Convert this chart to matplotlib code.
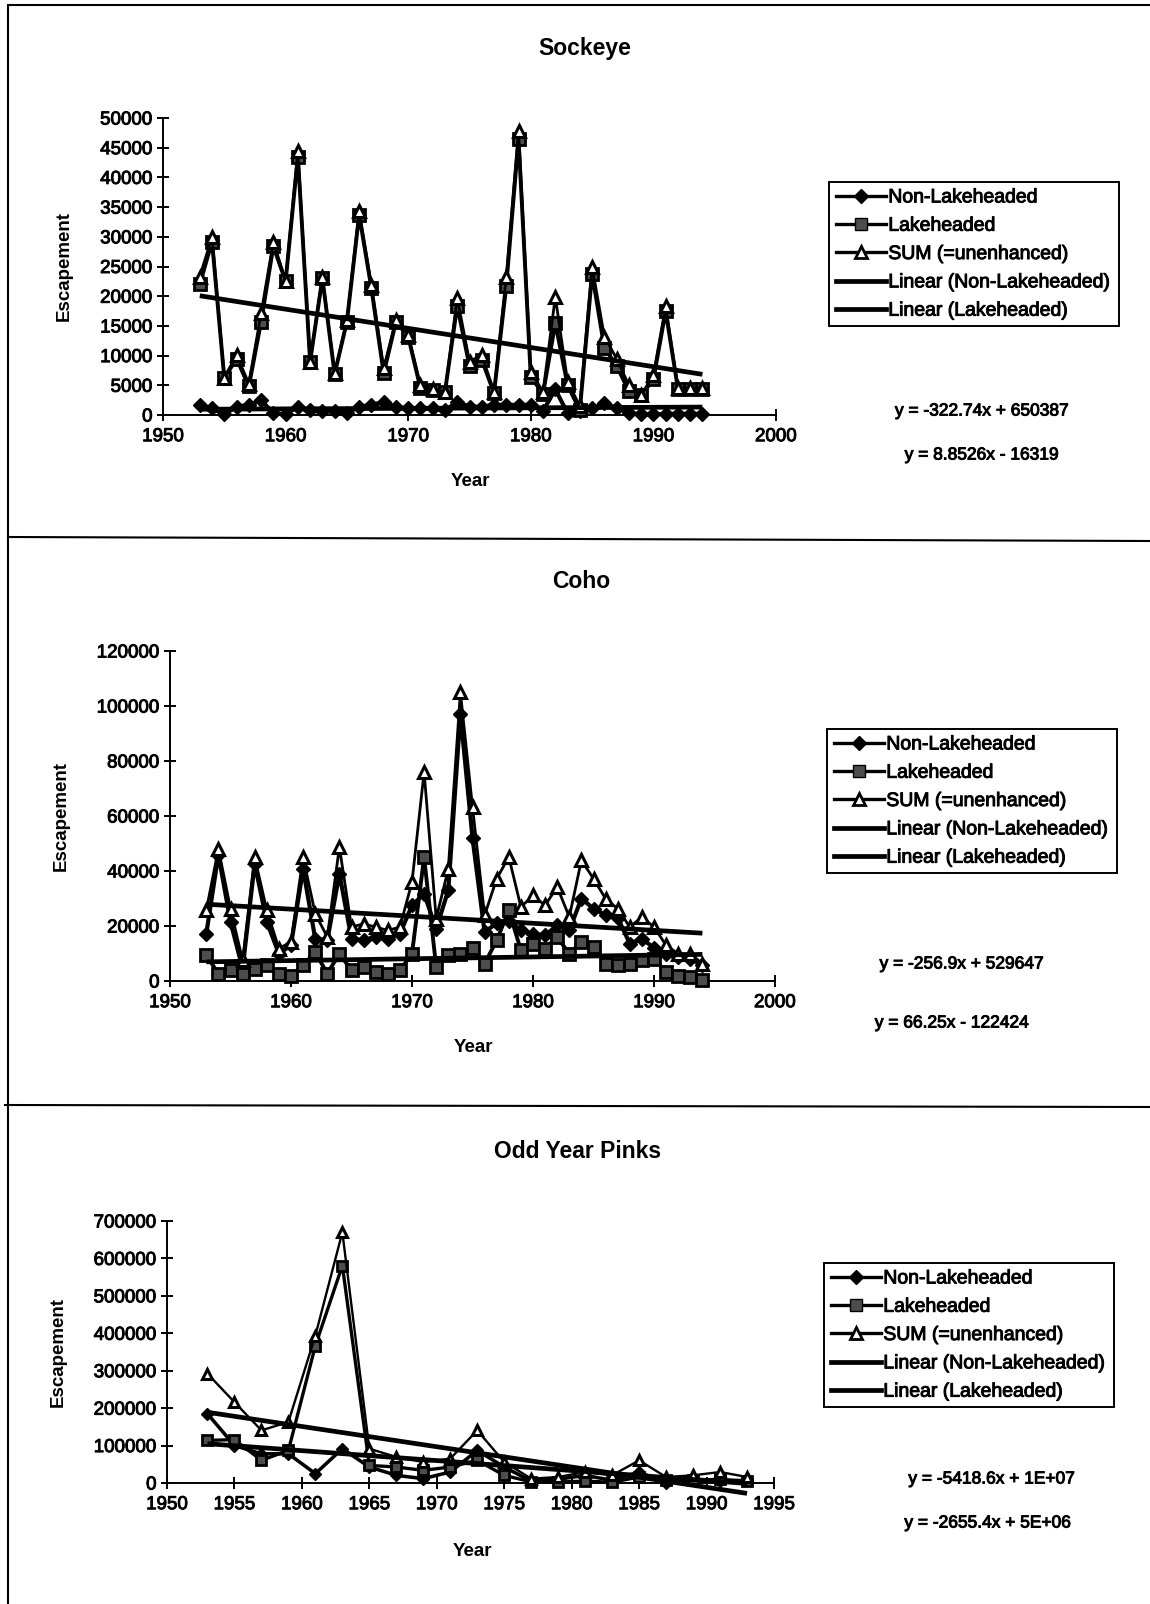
import numpy as np
import matplotlib.pyplot as plt
import matplotlib.patheffects as pe
from matplotlib.lines import Line2D
from matplotlib.ticker import StrMethodFormatter

plt.rcParams['font.family'] = ['Liberation Sans', 'DejaVu Sans']

# annual escapement, 1953-1994
years = np.arange(1953, 1995)

sockeye_nl = [1700, 1100, 100, 1400, 1700, 2500, 300, 100, 1400, 800, 600, 600, 300, 1400,
              1700, 2200, 1400, 1100, 1100, 1100, 800, 2200, 1400, 1400, 1700, 1700, 1700, 1700,
              700, 4300, 300, 700, 1100, 2000, 1200, 300, 100, 100, 200, 200, 200, 200]
sockeye_lake = [22000, 29200, 6200, 9500, 4800, 15700, 28400, 22500, 43500, 9000, 23000, 6900,
                15700, 33700, 21300, 7000, 15700, 13200, 4500, 4200, 3900, 18400, 8200, 9300,
                3700, 21800, 46500, 6400, 3600, 15500, 5000, 800, 23800, 11300, 8300, 4000,
                3300, 6000, 17500, 4400, 4400, 4400]
sockeye_sum = [23300, 30000, 6300, 10100, 5300, 17100, 29200, 22600, 44400, 9000, 23300, 7000,
               16000, 34300, 21900, 7900, 16000, 13500, 5000, 4400, 3900, 19700, 9000, 10100,
               3900, 23300, 47800, 7300, 3900, 19900, 5600, 1500, 25000, 13200, 9500, 5000,
               3400, 6700, 18300, 4600, 4600, 4600]

coho_nl = [17200, 46000, 21500, 4500, 42700, 21500, 9900, 13000, 40800, 15400, 14800, 39000,
           15400, 14800, 16000, 15400, 17200, 27500, 31700, 19000, 33000, 97200, 52000, 17800,
           21000, 22000, 18400, 17200, 16600, 20200, 18400, 30000, 26300, 24000, 23000, 13600,
           15400, 12000, 9900, 8700, 8100, 5700]
coho_lake = [9300, 2700, 3900, 2700, 4500, 5700, 2700, 2000, 5700, 10500, 2700, 9900, 3900,
             5000, 3300, 2700, 3900, 9900, 45000, 5000, 9300, 9900, 12000, 6300, 14800, 25700,
             11200, 13600, 11800, 16000, 9900, 14200, 12400, 6300, 5700, 6300, 7500, 8100,
             3300, 2000, 1500, 300]
coho_sum = [25700, 48100, 26300, 7500, 45000, 25700, 11800, 14200, 45000, 24500, 16000, 48700,
            19600, 20800, 19600, 18400, 19600, 36000, 76000, 22700, 40800, 105000, 63300, 23900,
            37200, 45100, 26900, 31100, 27500, 34200, 23300, 43900, 37200, 29900, 26300, 19600,
            23300, 19600, 13000, 9900, 9900, 6300]

# odd-year pinks, 1953-1993
pink_years = np.arange(1953, 1994, 2)
pink_nl = [185000, 100000, 78000, 78000, 25000, 91700, 42700, 20500, 11600, 29400, 87000,
           42700, 5000, 10000, 20500, 7000, 29400, 0, 7000, 5000, 7000]
pink_lake = [114000, 115700, 60500, 87000, 367000, 581000, 47000, 42700, 33800, 42700, 60500,
             20500, 3000, 2700, 5000, 2000, 16000, 7000, 7000, 10000, 5000]
pink_sum = [292000, 216000, 140600, 163000, 394000, 670000, 91700, 69400, 56000, 65000, 140600,
            56000, 11600, 16000, 29400, 20500, 60500, 16000, 20500, 29400, 16000]

# linear trend lines (slope, intercept)
sockeye_fits = [(-322.74, 650387), (8.8526, -16319)]
coho_fits = [(-256.9, 529647), (66.25, -122424)]
pink_fits = [(-5418.6, 10771526), (-2655.4, 5290996)]

sockeye_eqs = ["y = -322.74x + 650387", "y = 8.8526x - 16319"]
coho_eqs = ["y = -256.9x + 529647", "y = 66.25x - 122424"]
pink_eqs = ["y = -5418.6x + 1E+07", "y = -2655.4x + 5E+06"]

legend_labels = ["Non-Lakeheaded", "Lakeheaded", "SUM (=unenhanced)",
                 "Linear (Non-Lakeheaded)", "Linear (Lakeheaded)"]

W, H = 1150, 1604
fig = plt.figure(figsize=(W / 100, H / 100), dpi=100)

# slightly heavier strokes for the small text
heavy = [pe.withStroke(linewidth=0.7, foreground='black')]


def fx(px):
    return px / W


def fy(py):
    return 1 - py / H


def panel(rect, x, nl, lake, total, fits, xlim, xstep, ylim, ystep, thin=False):
    left, top, right, bottom = rect
    ax = fig.add_axes([fx(left), fy(bottom), fx(right - left), fy(top) - fy(bottom)])
    s = 0.85 if thin else 1.0
    ax.plot(x, nl, color='black', lw=3.0 * s, marker='D', ms=7 * s, mfc='black', mec='black',
            clip_on=False, zorder=3)
    ax.plot(x, lake, color='black', lw=2.8 * s, marker='s', ms=8.5 * s, mfc='0.3', mec='black',
            mew=2.0, clip_on=False, zorder=4)
    ax.plot(x, total, color='black', lw=2.0 * s, marker='^', ms=9 * s, mfc='white', mec='black',
            mew=2.2, clip_on=False, zorder=5)
    for slope, icpt in fits:
        xx = np.array([x[0], x[-1]])
        ax.plot(xx, slope * xx + icpt, color='black', lw=3.4, solid_capstyle='butt',
                clip_on=False, zorder=6)
    ax.set_xlim(*xlim)
    ax.set_ylim(*ylim)
    ax.set_xticks(np.arange(xlim[0], xlim[1] + 1, xstep))
    ax.set_yticks(np.arange(ylim[0], ylim[1] + 1, ystep))
    ax.yaxis.set_major_formatter(StrMethodFormatter('{x:.0f}'))
    for side in ('top', 'right'):
        ax.spines[side].set_visible(False)
    for side in ('left', 'bottom'):
        ax.spines[side].set_linewidth(1.4)
    ax.tick_params(direction='inout', length=9, width=1.4, labelsize=13.5, colors='black')
    ax.tick_params(axis='y', pad=3)
    ax.tick_params(axis='x', pad=5)
    for lab in ax.get_xticklabels() + ax.get_yticklabels():
        lab.set_path_effects(heavy)
    return ax


def labels(title, title_xy, ylab_xy, xlab_xy, eqs, eq_xy, leg_xy):
    fig.text(fx(title_xy[0]), fy(title_xy[1]), title, ha='center', va='center',
             fontsize=16.5, fontweight='bold')
    fig.text(fx(ylab_xy[0]), fy(ylab_xy[1]), "Escapement", rotation=90, ha='center',
             va='center', fontsize=13.5, fontweight='bold')
    fig.text(fx(xlab_xy[0]), fy(xlab_xy[1]), "Year", ha='center', va='center',
             fontsize=13.5, fontweight='bold')
    for eq, (ex, ey) in zip(eqs, eq_xy):
        fig.text(fx(ex), fy(ey), eq, ha='center', va='center', fontsize=12.5,
                 path_effects=heavy)
    handles = [
        Line2D([], [], color='black', lw=2.4, marker='D', ms=7, mfc='black'),
        Line2D([], [], color='black', lw=2.4, marker='s', ms=8, mfc='0.3', mec='black'),
        Line2D([], [], color='black', lw=2.4, marker='^', ms=8, mfc='white', mec='black', mew=2),
        Line2D([], [], color='black', lw=3.4),
        Line2D([], [], color='black', lw=3.4),
    ]
    leg = fig.legend(handles, legend_labels, loc='upper left',
                     bbox_to_anchor=(fx(leg_xy[0]), fy(leg_xy[1])), fontsize=14,
                     frameon=True, fancybox=False, framealpha=1, edgecolor='black',
                     handlelength=2.6, handletextpad=0.1, labelspacing=0.55,
                     borderpad=0.35, borderaxespad=0)
    leg.get_frame().set_linewidth(1.4)
    for t in leg.get_texts():
        t.set_path_effects(heavy)


# Sockeye
panel((163, 118, 776, 415), years, sockeye_nl, sockeye_lake, sockeye_sum, sockeye_fits,
      (1950, 2000), 10, (0, 50000), 5000)
labels("Sockeye", (585, 49), (64, 266), (470, 482), sockeye_eqs,
       [(982, 411), (982, 455)], (829, 182))

# Coho
panel((170, 651, 775, 981), years, coho_nl, coho_lake, coho_sum, coho_fits,
      (1950, 2000), 10, (0, 120000), 20000)
labels("Coho", (581, 582), (61, 816), (473, 1048), coho_eqs,
       [(962, 964), (952, 1023)], (827, 729))

# Odd Year Pinks
panel((167, 1221, 774, 1483), pink_years, pink_nl, pink_lake, pink_sum, pink_fits,
      (1950, 1995), 5, (0, 700000), 100000, thin=True)
labels("Odd Year Pinks", (578, 1151), (58, 1352), (472, 1551), pink_eqs,
       [(992, 1479), (988, 1523)], (824, 1263))

# page frame and panel dividers
frame = [((9, 1150), (5, 5)), ((8, 8), (5, 1604)),
         ((8, 1150), (537, 541)), ((5, 1150), (1105, 1107))]
for (x0, x1), (y0, y1) in frame:
    fig.add_artist(Line2D([fx(x0), fx(x1)], [fy(y0), fy(y1)], color='black', lw=1.5))

fig.savefig("out.png", dpi=100)
